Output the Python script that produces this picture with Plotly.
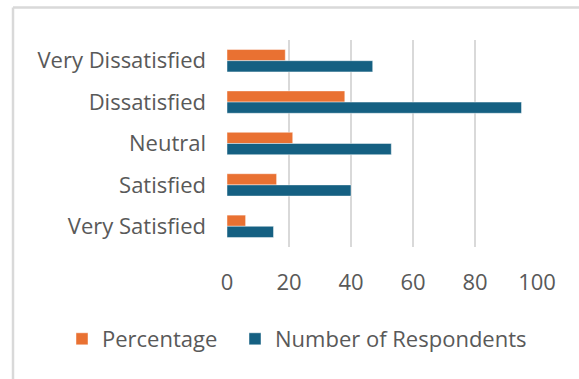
import plotly.graph_objects as go

categories = ["Very Dissatisfied", "Dissatisfied", "Neutral", "Satisfied", "Very Satisfied"]
percentage = [18.8, 38, 21.2, 16, 6]
respondents = [47, 95, 53, 40, 15]
x_ticks = [0, 20, 40, 60, 80, 100]

ORANGE = "#E97132"
BLUE = "#156082"
TEXT = "#595959"
GRID = "#D9D9D9"
FONT = "Open Sans"
FS = 22

fig = go.Figure()
fig.add_trace(go.Bar(y=categories, x=percentage, name="Percentage", orientation="h", legend="legend",
                     marker=dict(color=ORANGE, line=dict(color="rgba(255,255,255,0.6)", width=0.75))))
fig.add_trace(go.Bar(y=categories, x=respondents, name="Number of Respondents", orientation="h",
                     legend="legend2",
                     marker=dict(color=BLUE, line=dict(color="rgba(255,255,255,0.6)", width=0.75))))

L, R, T, B = 227, 42, 40, 132
W, H = 579, 379
pw, ph = W - L - R, H - T - B

def px(X):
    return (X - L) / pw

def py(Y):
    return (H - B - Y) / ph

leg_common = dict(orientation="h", xanchor="left", yanchor="middle", y=py(339),
                  font=dict(family=FONT, size=FS, color=TEXT), itemwidth=30,
                  bgcolor="rgba(0,0,0,0)")

fig.update_layout(
    width=W, height=H,
    margin=dict(l=L, r=R, t=T, b=B, pad=0),
    paper_bgcolor="white", plot_bgcolor="white",
    barmode="group", bargap=0.46, bargroupgap=0,
    font=dict(family=FONT, size=FS, color=TEXT),
    showlegend=True,
    legend=dict(x=px(62), **leg_common),
    legend2=dict(x=px(235), **leg_common),
    xaxis=dict(range=[0, 100], tickvals=x_ticks, showgrid=True, gridcolor=GRID, gridwidth=1.5,
               zeroline=False, showline=False, ticks="", ticklabelstandoff=20, fixedrange=True),
    yaxis=dict(autorange="reversed", showgrid=False, zeroline=False, showline=False, ticks="",
               ticklabelstandoff=20, fixedrange=True),
    shapes=[
        dict(type="line", xref="paper", yref="paper", x0=px(13), x1=px(W + 5), y0=py(7.5), y1=py(7.5),
             line=dict(color=GRID, width=2.5)),
        dict(type="line", xref="paper", yref="paper", x0=px(13), x1=px(13), y0=py(7.5), y1=py(H + 5),
             line=dict(color=GRID, width=2.5)),
    ],
)

fig.write_html("out.html")
